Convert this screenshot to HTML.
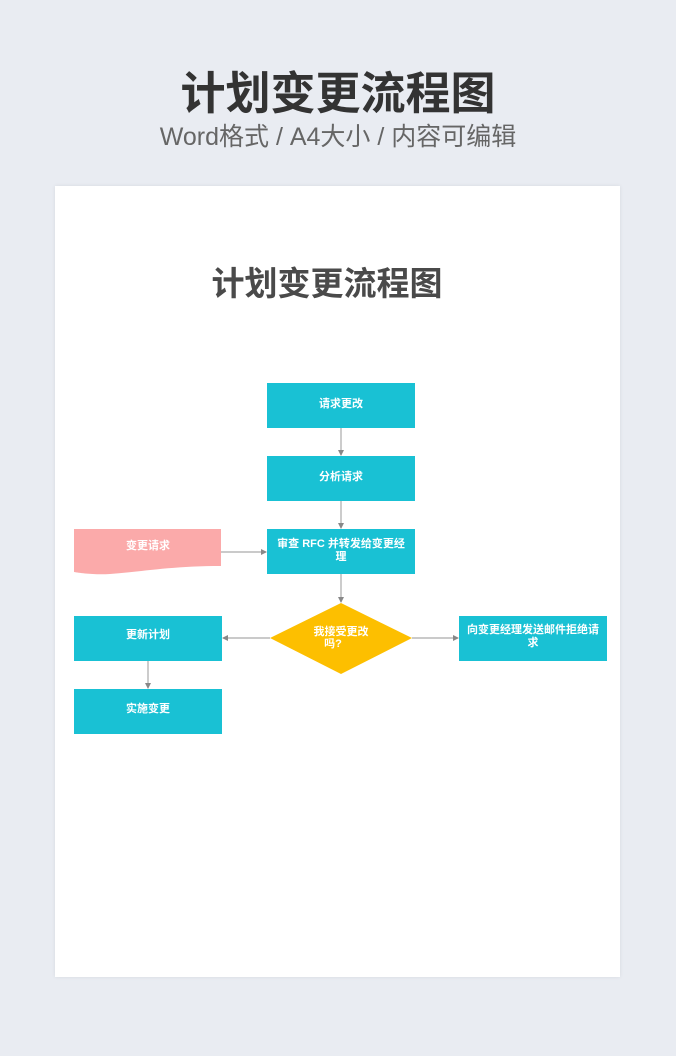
<!DOCTYPE html>
<html><head><meta charset="utf-8"><style>
html,body{margin:0;padding:0;}
body{width:676px;height:1056px;background:#e9ecf2;position:relative;overflow:hidden;font-family:"Liberation Sans","Noto Sans CJK SC",sans-serif;}
.t1{position:absolute;left:0;width:676px;top:66px;text-align:center;font-size:45px;font-weight:bold;color:#333;line-height:56px;}
.t2{position:absolute;left:0;width:676px;top:120px;text-align:center;font-size:25px;color:#666;line-height:34px;}
.card{position:absolute;left:55px;top:186px;width:565px;height:791px;background:#fff;box-shadow:0 0 4px rgba(0,0,0,0.08);}
</style></head><body>
<div class="t1">计划变更流程图</div>
<div class="t2">Word格式 / A4大小 / 内容可编辑</div>
<div class="card"></div>
<svg width="676" height="1056" style="position:absolute;left:0;top:0" font-family="Liberation Sans, Noto Sans CJK SC, sans-serif">
<defs><marker id="a" markerWidth="6" markerHeight="6" refX="5" refY="3" orient="auto" markerUnits="userSpaceOnUse"><path d="M0,0 L6,3 L0,6z" fill="#888"/></marker></defs>
<text x="327" y="295" text-anchor="middle" font-size="33" font-weight="bold" fill="#4a4a4a">计划变更流程图</text>
<g fill="#19c1d4">
<rect x="267" y="383" width="148" height="45"/>
<rect x="267" y="456" width="148" height="45"/>
<rect x="267" y="529" width="148" height="45"/>
<rect x="74" y="616" width="148" height="45"/>
<rect x="459" y="616" width="148" height="45"/>
<rect x="74" y="689" width="148" height="45"/>
</g>
<path d="M74,529 H221 V566 C170,566 140,572 110,574 C95,575 80,573 74,572 Z" fill="#fbaaaa"/>
<polygon points="341,603 412,638 341,674 270,638" fill="#fdbf00"/>
<g stroke="#aaa" stroke-width="1.2" fill="none" marker-end="url(#a)">
<line x1="341" y1="428" x2="341" y2="455"/>
<line x1="341" y1="501" x2="341" y2="528"/>
<line x1="341" y1="574" x2="341" y2="602"/>
<line x1="221" y1="552" x2="266" y2="552"/>
<line x1="270" y1="638" x2="223" y2="638"/>
<line x1="412" y1="638" x2="458" y2="638"/>
<line x1="148" y1="661" x2="148" y2="688"/>
</g>
<g fill="#fff" font-size="11" font-weight="bold" text-anchor="middle">
<text x="341" y="407">请求更改</text>
<text x="341" y="480">分析请求</text>
<text x="341" y="547">审查 RFC 并转发给变更经</text>
<text x="341" y="560">理</text>
<text x="148" y="549">变更请求</text>
<text x="341" y="635">我接受更改</text>
<text x="333" y="647">吗?</text>
<text x="148" y="638">更新计划</text>
<text x="533" y="633">向变更经理发送邮件拒绝请</text>
<text x="533" y="646">求</text>
<text x="148" y="712">实施变更</text>
</g>
</svg>
</body></html>
